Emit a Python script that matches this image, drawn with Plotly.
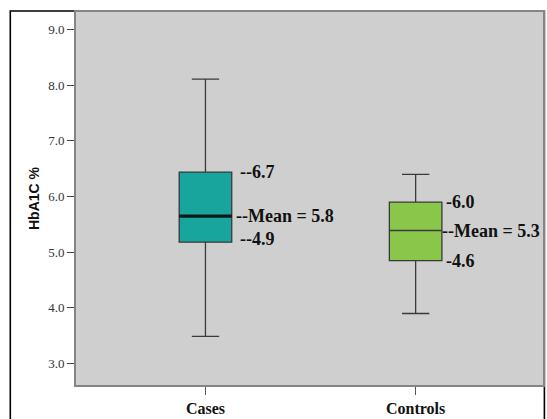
import plotly.graph_objects as go

# HbA1C distribution per group
groups = ["Cases", "Controls"]
lower_whisker = [3.49, 3.90]
q1 = [5.18, 4.85]
median = [5.65, 5.39]
q3 = [6.44, 5.90]
upper_whisker = [8.11, 6.40]

# mean and SD labels per group
means = [5.8, 5.3]
sd_high = [6.7, 6.0]
sd_low = [4.9, 4.6]

fills = ["#17a59d", "#8ac64a"]
outline = "#3a3a3a"

y_ticks = [3.0, 4.0, 5.0, 6.0, 7.0, 8.0, 9.0]

box_width = 0.25
positions = list(range(len(groups)))

fig = go.Figure()
for i, g in enumerate(groups):
    fig.add_trace(go.Box(
        x=[positions[i]], name=g,
        q1=[q1[i]], median=[median[i]], q3=[q3[i]],
        lowerfence=[lower_whisker[i]], upperfence=[upper_whisker[i]],
        fillcolor=fills[i],
        line=dict(color=outline, width=1.3),
        width=box_width,
        whiskerwidth=0.52,
        boxpoints=False,
        hoverinfo="skip",
        showlegend=False,
    ))

# heavier median stroke for the Cases box
fig.add_trace(go.Scatter(
    x=[positions[0] - box_width / 2, positions[0] + box_width / 2],
    y=[median[0], median[0]],
    mode="lines", line=dict(color="#0b1a18", width=3.2),
    showlegend=False, hoverinfo="skip",
))

label_font = dict(family="Liberation Serif", size=18, color="#111111")
shifts = [(33, 29), (28, 24)]
for i, g in enumerate(groups):
    edge_shift, mean_shift = shifts[i]
    dash_hi = "--" if i == 0 else "-"
    fig.add_annotation(x=positions[i], y=q3[i], text=f"<b>{dash_hi}{sd_high[i]:.1f}</b>",
                       xref="x", yref="y", xanchor="left", yanchor="middle",
                       xshift=edge_shift, showarrow=False, font=label_font)
    fig.add_annotation(x=positions[i], y=median[i], text=f"<b>--Mean = {means[i]:.1f}</b>",
                       xref="x", yref="y", xanchor="left", yanchor="middle",
                       xshift=mean_shift, showarrow=False, font=label_font)
    fig.add_annotation(x=positions[i], y=q1[i], text=f"<b>{dash_hi}{sd_low[i]:.1f}</b>",
                       xref="x", yref="y", xanchor="left", yanchor="middle",
                       xshift=edge_shift, yshift=3 if i == 0 else 0,
                       showarrow=False, font=label_font)

# outer frame of the figure panel
fig.add_shape(type="rect", xref="paper", yref="paper",
              x0=-0.1407, x1=1.003, y0=-0.2, y1=1.0026,
              line=dict(color="#000000", width=1.6), layer="below")

fig.update_layout(
    width=547, height=419,
    margin=dict(l=76, r=2, t=12, b=24),
    paper_bgcolor="#ffffff",
    plot_bgcolor="#cfcfcf",
    xaxis=dict(
        range=[-0.616, 1.606],
        tickvals=positions, ticktext=[f"<b>{g}</b>" for g in groups],
        showline=True, linecolor="#858585", linewidth=2, mirror=True,
        ticks="outside", ticklen=8, tickcolor="#555555",
        tickfont=dict(family="Liberation Serif", size=16, color="#111111"),
        showgrid=False, zeroline=False,
    ),
    yaxis=dict(
        range=[2.616, 9.314],
        tickvals=y_ticks, ticktext=[f"{v:.1f}" for v in y_ticks],
        showline=True, linecolor="#858585", linewidth=2, mirror=True,
        ticks="outside", ticklen=7, tickcolor="#444444",
        tickfont=dict(family="Liberation Serif", size=13, color="#333333"),
        showgrid=False, zeroline=False,
        title=dict(text="<b>HbA1C %</b>", standoff=5,
                   font=dict(family="Liberation Sans", size=14, color="#111111")),
    ),
)

fig.write_html("out.html")
